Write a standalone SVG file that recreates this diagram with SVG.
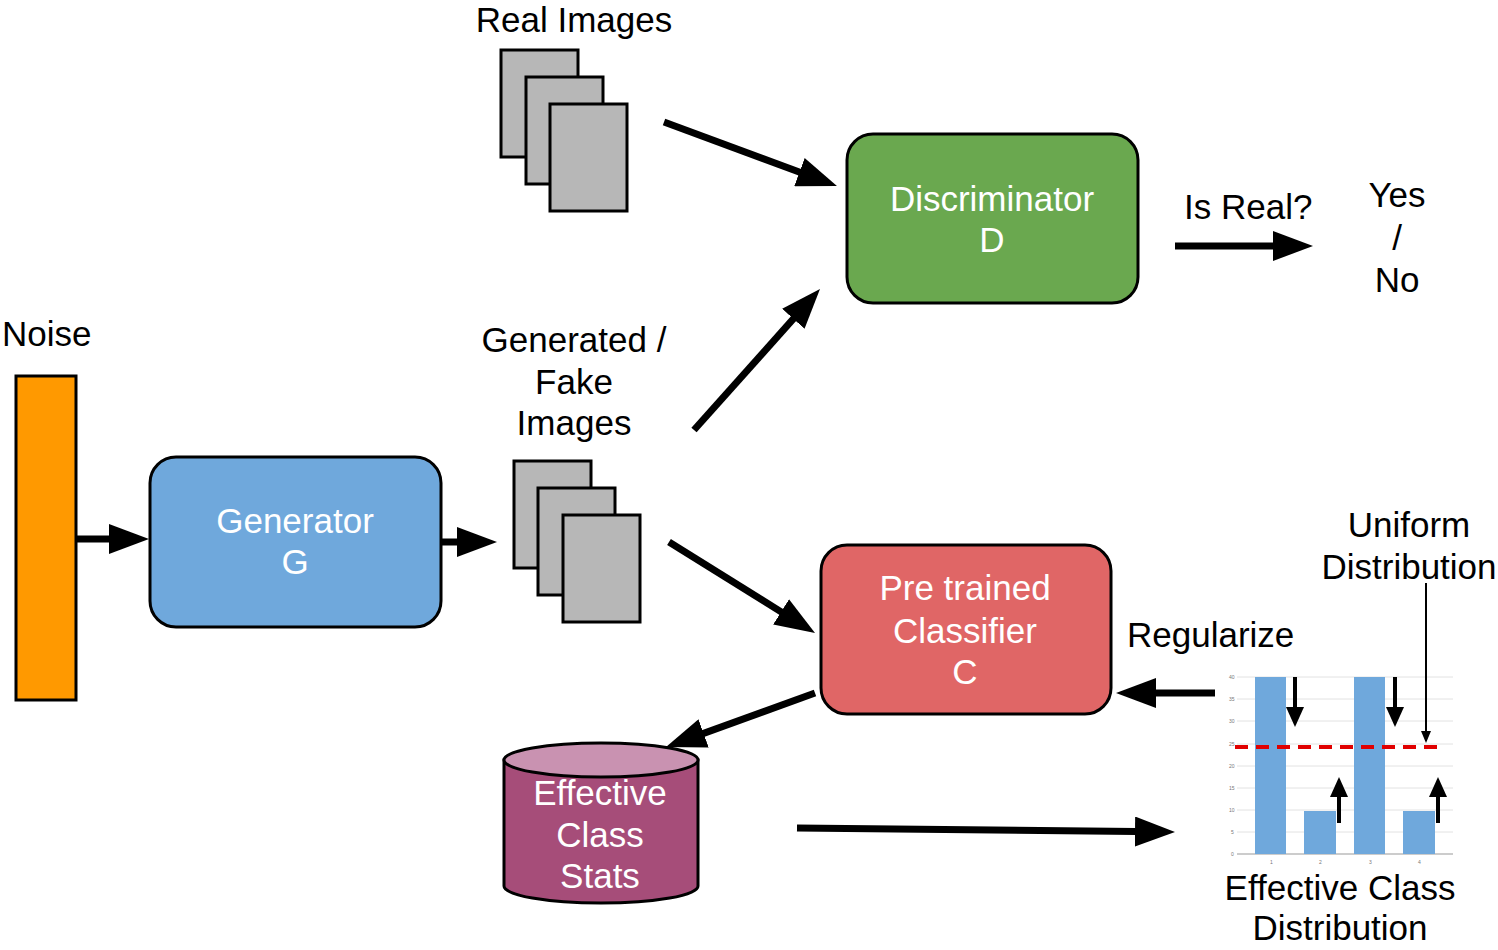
<svg xmlns="http://www.w3.org/2000/svg" width="1498" height="950" viewBox="0 0 1498 950">
<defs>
<style>
text{font-family:"Liberation Sans",Arial,sans-serif;font-size:35px;fill:#000}
.c{text-anchor:middle}
.w{fill:#fff}
.box{stroke:#000;stroke-width:3}
.img{fill:#b7b7b7;stroke:#000;stroke-width:3}
.big{stroke:#000;stroke-width:7;fill:none}
.sm{stroke:#000;stroke-width:4;fill:none}
.grid{stroke:#e2e2e2;stroke-width:1}
.ax{font-size:5px;fill:#777}
</style>
<marker id="ah" markerWidth="40" markerHeight="30" refX="25" refY="15" orient="auto" markerUnits="userSpaceOnUse"><path d="M0,0 L40,15 L0,30 Z" fill="#000"/></marker>
<marker id="as" markerWidth="20" markerHeight="18" refX="14" refY="9" orient="auto" markerUnits="userSpaceOnUse"><path d="M0,0 L20,9 L0,18 Z" fill="#000"/></marker>
<marker id="at" markerWidth="12" markerHeight="10" refX="10" refY="5" orient="auto" markerUnits="userSpaceOnUse"><path d="M0,0 L12,5 L0,10 Z" fill="#000"/></marker>
</defs>
<rect width="1498" height="950" fill="#fff"/>

<g id="noise">
<rect class="box" x="16" y="376" width="60" height="324" fill="#ff9900"/>
<text x="2" y="346">Noise</text>
</g>

<g id="generator">
<rect class="box" x="150" y="457" width="291" height="170" rx="26" fill="#6fa8dc"/>
<text class="c w" x="295" y="533">Generator</text>
<text class="c w" x="295" y="574">G</text>
</g>

<g id="real-images">
<text class="c" x="574" y="32" font-size="33">Real Images</text>
<rect class="img" x="501" y="50" width="77" height="107"/>
<rect class="img" x="526" y="77" width="77" height="107"/>
<rect class="img" x="550" y="104" width="77" height="107"/>
</g>

<g id="fake-images">
<text class="c" x="574" y="352">Generated /</text>
<text class="c" x="574" y="394">Fake</text>
<text class="c" x="574" y="435">Images</text>
<rect class="img" x="514" y="461" width="77" height="107"/>
<rect class="img" x="538" y="488" width="77" height="107"/>
<rect class="img" x="563" y="515" width="77" height="107"/>
</g>

<g id="discriminator">
<rect class="box" x="847" y="134" width="291" height="169" rx="26" fill="#6aa84f"/>
<text class="c w" x="992" y="211">Discriminator</text>
<text class="c w" x="992" y="252">D</text>
</g>

<g id="output">
<text x="1184" y="219">Is Real?</text>
<text class="c" x="1397" y="207">Yes</text>
<text class="c" x="1397" y="250">/</text>
<text class="c" x="1397" y="292">No</text>
</g>

<g id="classifier">
<rect class="box" x="821" y="545" width="290" height="169" rx="26" fill="#e06666"/>
<text class="c w" x="965" y="600">Pre trained</text>
<text class="c w" x="965" y="643">Classifier</text>
<text class="c w" x="965" y="684">C</text>
</g>

<g id="stats">
<path class="box" d="M504,760 L504,886 A97,17 0 0 0 698,886 L698,760 Z" fill="#a64d79"/>
<ellipse class="box" cx="601" cy="760" rx="97" ry="17" fill="#c992b1"/>
<text class="c w" x="600" y="805">Effective</text>
<text class="c w" x="600" y="847">Class</text>
<text class="c w" x="600" y="888">Stats</text>
</g>

<g id="labels">
<text x="1127" y="647">Regularize</text>
<text class="c" x="1409" y="537">Uniform</text>
<text class="c" x="1409" y="579">Distribution</text>
<text class="c" x="1340" y="900">Effective Class</text>
<text class="c" x="1340" y="940">Distribution</text>
</g>

<g id="chart">
<line class="grid" x1="1237" y1="677" x2="1453" y2="677"/>
<line class="grid" x1="1237" y1="699" x2="1453" y2="699"/>
<line class="grid" x1="1237" y1="721" x2="1453" y2="721"/>
<line class="grid" x1="1237" y1="744" x2="1453" y2="744"/>
<line class="grid" x1="1237" y1="766" x2="1453" y2="766"/>
<line class="grid" x1="1237" y1="788" x2="1453" y2="788"/>
<line class="grid" x1="1237" y1="810" x2="1453" y2="810"/>
<line class="grid" x1="1237" y1="832" x2="1453" y2="832"/>
<line x1="1237" y1="854" x2="1453" y2="854" stroke="#999" stroke-width="1"/>
<text class="ax" x="1229" y="679">40</text>
<text class="ax" x="1229" y="701">35</text>
<text class="ax" x="1229" y="723">30</text>
<text class="ax" x="1229" y="746">25</text>
<text class="ax" x="1229" y="768">20</text>
<text class="ax" x="1229" y="790">15</text>
<text class="ax" x="1229" y="812">10</text>
<text class="ax" x="1231" y="834">5</text>
<text class="ax" x="1231" y="856">0</text>
<text class="ax" x="1270" y="864">1</text>
<text class="ax" x="1319" y="864">2</text>
<text class="ax" x="1369" y="864">3</text>
<text class="ax" x="1418" y="864">4</text>
<rect x="1255" y="677" width="31" height="177" fill="#6fa8dc"/>
<rect x="1304" y="811" width="32" height="43" fill="#6fa8dc"/>
<rect x="1354" y="677" width="31" height="177" fill="#6fa8dc"/>
<rect x="1403" y="811" width="32" height="43" fill="#6fa8dc"/>
<line x1="1235" y1="747" x2="1445" y2="747" stroke="#e00000" stroke-width="4" stroke-dasharray="13 8"/>
<line class="sm" x1="1295" y1="677" x2="1295" y2="721" marker-end="url(#as)"/>
<line class="sm" x1="1395" y1="677" x2="1395" y2="721" marker-end="url(#as)"/>
<line class="sm" x1="1339" y1="823" x2="1339" y2="783" marker-end="url(#as)"/>
<line class="sm" x1="1438" y1="823" x2="1438" y2="783" marker-end="url(#as)"/>
</g>

<g id="connectors">
<line class="big" x1="76" y1="539" x2="134" y2="539" marker-end="url(#ah)"/>
<line class="big" x1="441" y1="542" x2="482" y2="542" marker-end="url(#ah)"/>
<line class="big" x1="664" y1="122" x2="822.9" y2="180.8" marker-end="url(#ah)"/>
<line class="big" x1="694" y1="430" x2="810" y2="300.2" marker-end="url(#ah)"/>
<line class="big" x1="669" y1="542" x2="802.3" y2="625.1" marker-end="url(#ah)"/>
<line class="big" x1="1175" y1="246" x2="1298" y2="246" marker-end="url(#ah)"/>
<line class="big" x1="1215" y1="693" x2="1131" y2="693" marker-end="url(#ah)"/>
<line class="big" x1="815" y1="693" x2="680.1" y2="741.9" marker-end="url(#ah)"/>
<line class="big" x1="797" y1="828" x2="1160" y2="831.8" marker-end="url(#ah)"/>
<line x1="1426" y1="583" x2="1426" y2="741" stroke="#000" stroke-width="2" marker-end="url(#at)"/>
</g>
</svg>
